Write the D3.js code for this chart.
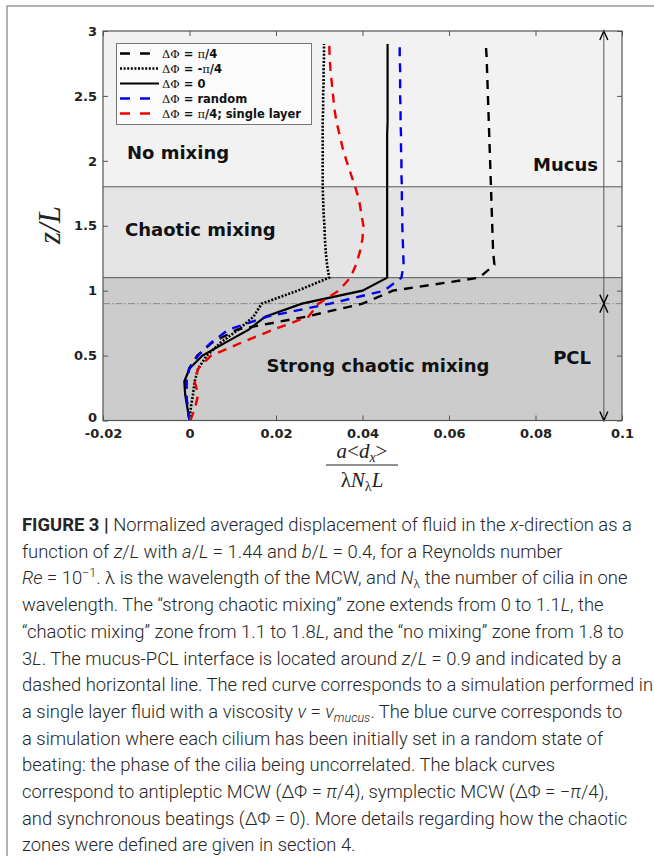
<!DOCTYPE html>
<html>
<head>
<meta charset="utf-8">
<script src="https://cdn.jsdelivr.net/npm/d3@7"></script>
<style>
body { margin: 0; background: #fff; }
svg { display: block; }
</style>
</head>
<body>
<script>
// z/L levels where the displacement was sampled
var zLevels = [0,0.1,0.2,0.3,0.4,0.5,0.6,0.7,0.8,0.9,1.0,1.1,1.2,1.3,1.4,1.5,1.6,1.7,1.8,1.9,2.0,2.1,2.2,2.3,2.4,2.5,2.6,2.7,2.8,2.9]

// normalized displacement a<dx>/(lambda N L) for each run
var antipleptic = [0,-0.0004,-0.0008,-0.0007,-0.0001,0.0018,0.0052,0.011,0.027,0.040,0.047,0.067,0.0705,0.0702,0.0701,0.0700,0.0699,0.0698,0.0697,0.0696,0.0695,0.0694,0.0693,0.0692,0.0691,0.0690,0.0689,0.0688,0.0687,0.0685]
var symplectic = [0,0.0003,0.0008,0.0012,0.002,0.004,0.0072,0.0113,0.0148,0.0167,0.025,0.0323,0.0318,0.0315,0.0313,0.0312,0.031,0.0309,0.0308,0.0308,0.0308,0.0308,0.0308,0.0308,0.0309,0.0309,0.031,0.031,0.0311,0.0311]
var synchronous = [0,-0.0005,-0.001,-0.0012,0,0.003,0.0083,0.0137,0.0175,0.026,0.040,0.0457,0.0457,0.0457,0.0457,0.0457,0.0457,0.0457,0.0457,0.0457,0.0457,0.0457,0.0457,0.0458,0.0458,0.0458,0.0458,0.0458,0.0458,0.0458]
var randomPhase = [0,-0.0005,-0.0007,-0.0007,0,0.002,0.005,0.009,0.018,0.0325,0.045,0.049,0.0495,0.0494,0.0493,0.0492,0.0492,0.0491,0.0491,0.049,0.049,0.0489,0.0489,0.0488,0.0488,0.0487,0.0487,0.0487,0.0486,0.0486]
var singleLayer = [0.0002,0.0013,0.002,0.0012,0.002,0.005,0.012,0.0194,0.0275,0.0298,0.0345,0.0372,0.0385,0.0394,0.040,0.0402,0.0397,0.0392,0.0383,0.0373,0.0363,0.0354,0.0347,0.034,0.0335,0.0332,0.0329,0.0326,0.0324,0.0323]

var legendLabels = ["π/4", "-π/4", "0", "random", "π/4; single layer"]
var xTicks = [-0.02,0,0.02,0.04,0.06,0.08,0.1]
var yTicks = [0,0.5,1,1.5,2,2.5,3]
var zoneEdges = [0,1.1,1.8,3]
var zoneNames = ["Strong chaotic mixing","Chaotic mixing","No mixing"]
var interfaceZ = 0.9

var series = [
  {values: antipleptic, color: "#000", dash: "9,7", width: 2.4},
  {values: symplectic, color: "#000", dash: "2,1.6", width: 2.6},
  {values: synchronous, color: "#000", dash: null, width: 2.2},
  {values: randomPhase, color: "#0000ee", dash: "9,7", width: 2.4},
  {values: singleLayer, color: "#ee0000", dash: "9,7", width: 2.4}
]

var svg = d3.select("body").append("svg")
  .attr("width", 654)
  .attr("height", 856)

// figure frame
svg.append("path").attr("d", "M7,856 L7,6 L654,6")
  .attr("fill", "none").attr("stroke", "#999").attr("stroke-width", 1.5)

var xScale = d3.scaleLinear().domain([-0.02,0.1]).range([103,622])
var yScale = d3.scaleLinear().domain([0,3]).range([420.5,31])

// zone backgrounds
var bandColors = ["#cccccc","#e5e5e5","#f2f2f2"]
svg.selectAll("rect.band")
  .data(d3.range(3))
  .enter()
  .append("rect")
  .attr("class","band")
  .attr("x", xScale(-0.02))
  .attr("width", xScale(0.1) - xScale(-0.02))
  .attr("y", function(i){ return yScale(zoneEdges[i+1]) })
  .attr("height", function(i){ return yScale(zoneEdges[i]) - yScale(zoneEdges[i+1]) })
  .attr("fill", function(i){ return bandColors[i] })

svg.selectAll("line.zone")
  .data([1.1,1.8])
  .enter()
  .append("line")
  .attr("x1", xScale(-0.02)).attr("x2", xScale(0.1))
  .attr("y1", function(d){ return yScale(d) }).attr("y2", function(d){ return yScale(d) })
  .attr("stroke", "#555").attr("stroke-width", 1)

// mucus-PCL interface
svg.append("line")
  .attr("x1", xScale(-0.02)).attr("x2", xScale(0.1))
  .attr("y1", yScale(interfaceZ)).attr("y2", yScale(interfaceZ))
  .attr("stroke", "#888").attr("stroke-width", 1)
  .attr("stroke-dasharray", "7,2,1.5,2")

// zone labels
var zoneText = svg.append("g")
  .attr("font-family", "DejaVu Sans").attr("font-weight", "bold")
  .attr("font-size", 18).attr("fill", "#111")
zoneText.append("text").text(zoneNames[2]).attr("x", 127).attr("y", 159)
zoneText.append("text").text(zoneNames[1]).attr("x", 125).attr("y", 236)
zoneText.append("text").text(zoneNames[0]).attr("x", 378).attr("y", 372).attr("text-anchor", "middle")
zoneText.append("text").text("Mucus").attr("x", 598).attr("y", 171).attr("text-anchor", "end")
zoneText.append("text").text("PCL").attr("x", 591).attr("y", 364).attr("text-anchor", "end")

// layer arrows
var ax = xScale(0.0958)
function arrow(z0, z1){
  var ya = yScale(z0), yb = yScale(z1)
  svg.append("line").attr("x1", ax).attr("x2", ax).attr("y1", ya).attr("y2", yb)
    .attr("stroke", "#555").attr("stroke-width", 1)
  svg.append("path")
    .attr("d", "M" + (ax-4) + "," + (ya-9) + " L" + ax + "," + ya + " L" + (ax+4) + "," + (ya-9) +
      " M" + (ax-4) + "," + (yb+9) + " L" + ax + "," + yb + " L" + (ax+4) + "," + (yb+9))
    .attr("fill", "none").attr("stroke", "#000").attr("stroke-width", 1.4)
}
arrow(0, interfaceZ)
arrow(interfaceZ, 3)

// curves
var line = d3.line()
  .x(function(d){ return xScale(d[0]) })
  .y(function(d){ return yScale(d[1]) })

series.forEach(function(s){
  svg.append("path")
    .datum(s.values.map(function(v,i){ return [v, zLevels[i]] }))
    .attr("d", line)
    .attr("fill", "none")
    .attr("stroke", s.color)
    .attr("stroke-width", s.width)
    .attr("stroke-dasharray", s.dash)
})

// axes, ticks pointing inward
var xAxis = d3.axisBottom(xScale).tickValues(xTicks).tickSizeInner(-5).tickSizeOuter(0).tickPadding(8)
  .tickFormat(function(d){ return String(+d.toFixed(2)) })
var yAxis = d3.axisLeft(yScale).tickValues(yTicks).tickSizeInner(-5).tickSizeOuter(0).tickPadding(6)
  .tickFormat(function(d){ return String(d) })

var gx = svg.append("g").attr("transform", "translate(0," + yScale(0) + ")").call(xAxis)
var gy = svg.append("g").attr("transform", "translate(" + xScale(-0.02) + ",0)").call(yAxis)
svg.append("g").attr("transform", "translate(0," + yScale(3) + ")")
  .call(d3.axisTop(xScale).tickValues(xTicks).tickSizeInner(-5).tickSizeOuter(0).tickFormat(""))
svg.append("g").attr("transform", "translate(" + xScale(0.1) + ",0)")
  .call(d3.axisRight(yScale).tickValues(yTicks).tickSizeInner(-5).tickSizeOuter(0).tickFormat(""))

svg.selectAll(".domain").remove()
svg.selectAll(".tick line").attr("stroke", "#555")
svg.selectAll(".tick text")
  .attr("font-family", "DejaVu Sans").attr("font-weight", "bold")
  .attr("font-size", 13).attr("fill", "#222")
// lift the y "0" a little so it clears "-0.02"
gy.selectAll(".tick text").filter(function(d){ return d == 0 }).attr("dy", "0.1em")

svg.append("rect")
  .attr("x", xScale(-0.02)).attr("y", yScale(3))
  .attr("width", xScale(0.1) - xScale(-0.02)).attr("height", yScale(0) - yScale(3))
  .attr("fill", "none").attr("stroke", "#555").attr("stroke-width", 1.2)

// legend
var legend = svg.append("g")
legend.append("rect").attr("x", 116.5).attr("y", 43.5).attr("width", 195).attr("height", 81)
  .attr("fill", "#fbfbfb").attr("stroke", "#777").attr("stroke-width", 1)
series.forEach(function(s, i){
  var ly = 53.5 + i*15
  legend.append("line").attr("x1", 120).attr("x2", 159).attr("y1", ly).attr("y2", ly)
    .attr("stroke", s.color).attr("stroke-width", s.width)
    .attr("stroke-dasharray", s.dash ? (i == 1 ? "2,1.6" : "10,10") : null)
  var t = legend.append("text").attr("x", 162).attr("y", ly + 4)
    .attr("font-size", 11.5).attr("fill", "#111")
  t.append("tspan").attr("font-family", "DejaVu Serif").text("ΔΦ")
  t.append("tspan").attr("font-family", "DejaVu Sans").attr("font-weight", "bold").text(" = ")
  var lab = legendLabels[i]
  lab.split(/(π)/).forEach(function(part){
    if (part == "") return
    if (part == "π") t.append("tspan").attr("font-family", "DejaVu Serif").text("π")
    else t.append("tspan").attr("font-family", "DejaVu Sans").attr("font-weight", "bold").text(part)
  })
})

// axis titles
svg.append("text")
  .attr("transform", "translate(60,225) rotate(-90)")
  .attr("text-anchor", "middle")
  .attr("font-family", "Liberation Serif").attr("font-style", "italic")
  .attr("font-size", 31).attr("fill", "#222")
  .text("z/L")

var frac = svg.append("g").attr("font-family", "Liberation Serif").attr("font-size", 21).attr("fill", "#222")
var num = frac.append("text").attr("x", 362).attr("y", 458).attr("text-anchor", "middle")
num.append("tspan").attr("font-style", "italic").text("a")
num.append("tspan").text("<")
num.append("tspan").attr("font-style", "italic").text("d")
num.append("tspan").attr("font-style", "italic").attr("font-size", 14).attr("baseline-shift", -4).text("x")
num.append("tspan").text(">")
frac.append("line").attr("x1", 326).attr("x2", 398).attr("y1", 465).attr("y2", 465)
  .attr("stroke", "#222").attr("stroke-width", 1)
var den = frac.append("text").attr("x", 362).attr("y", 487).attr("text-anchor", "middle")
den.append("tspan").text("λ")
den.append("tspan").attr("font-style", "italic").text("N")
den.append("tspan").attr("font-size", 14).attr("baseline-shift", -4).text("λ")
den.append("tspan").attr("font-style", "italic").text("L")

// caption
var caption = [
  [["FIGURE 3 | ","b"],["Normalized averaged displacement of fluid in the "],["x","i"],["-direction as a"]],
  [["function of "],["z","i"],["/"],["L","i"],[" with "],["a","i"],["/"],["L","i"],[" = 1.44 and "],["b","i"],["/"],["L","i"],[" = 0.4, for a Reynolds number"]],
  [["Re","i"],[" = 10"],["−1","sup"],[". λ is the wavelength of the MCW, and "],["N","i"],["λ","sub"],[" the number of cilia in one"]],
  [["wavelength. The “strong chaotic mixing” zone extends from 0 to 1.1"],["L","i"],[", the"]],
  [["“chaotic mixing” zone from 1.1 to 1.8"],["L","i"],[", and the “no mixing” zone from 1.8 to"]],
  [["3"],["L","i"],[". The mucus-PCL interface is located around "],["z","i"],["/"],["L","i"],[" = 0.9 and indicated by a"]],
  [["dashed horizontal line. The red curve corresponds to a simulation performed in"]],
  [["a single layer fluid with a viscosity "],["ν","i"],[" = "],["ν","i"],["mucus","subi"],[". The blue curve corresponds to"]],
  [["a simulation where each cilium has been initially set in a random state of"]],
  [["beating: the phase of the cilia being uncorrelated. The black curves"]],
  [["correspond to antipleptic MCW (ΔΦ = "],["π","i"],["/4), symplectic MCW (ΔΦ = −"],["π","i"],["/4),"]],
  [["and synchronous beatings (ΔΦ = 0). More details regarding how the chaotic"]],
  [["zones were defined are given in section 4."]]
]

var cap = svg.append("g").attr("font-family", "Roboto").attr("font-weight", 300)
  .attr("font-size", 18.4).attr("fill", "#262626")
caption.forEach(function(segs, i){
  var t = cap.append("text").attr("x", 22).attr("y", 531 + i*26.7)
  segs.forEach(function(s){
    var sp = t.append("tspan").text(s[0])
    if (s[1] == "b") sp.attr("font-weight", "bold")
    if (s[1] == "i") sp.attr("font-style", "italic")
    if (s[1] == "sup") sp.attr("font-size", 12.5).attr("baseline-shift", 7)
    if (s[1] == "sub") sp.attr("font-size", 12.5).attr("baseline-shift", -4)
    if (s[1] == "subi") sp.attr("font-size", 12.5).attr("font-style", "italic").attr("baseline-shift", -4)
  })
})
</script>
</body>
</html>
